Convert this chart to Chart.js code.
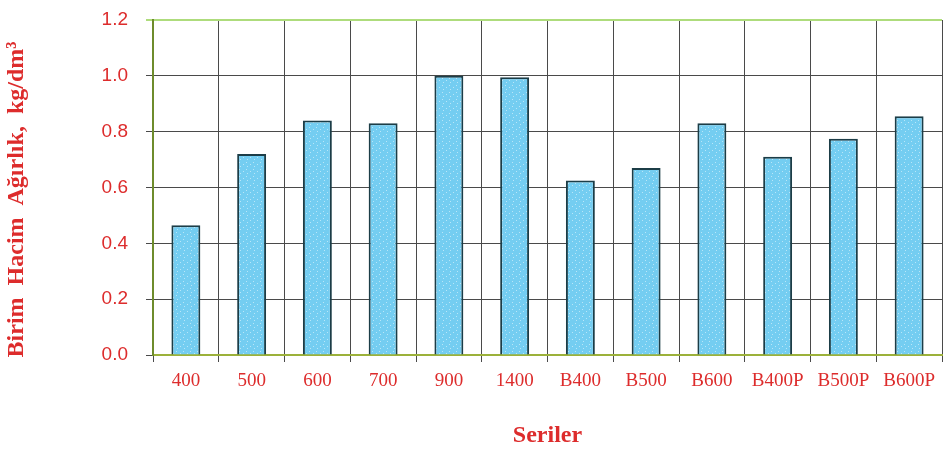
<!DOCTYPE html>
<html>
<head>
<meta charset="utf-8">
<script src="https://cdn.jsdelivr.net/npm/chart.js@4"></script>
<style>
  html, body { margin: 0; padding: 0; background: #fff; }
  #wrap { width: 943px; height: 450px; }
</style>
</head>
<body>
<div id="wrap"><canvas id="densityChart"></canvas></div>
<script>
// Seriler (categories) and unit weights
const seriesLabels = ["400", "500", "600", "700", "900", "1400", "B400", "B500", "B600", "B400P", "B500P", "B600P"];
const unitWeights = [0.465, 0.72, 0.84, 0.83, 1.0, 0.995, 0.625, 0.67, 0.83, 0.71, 0.775, 0.855];
const yTickLabels = ["0.0", "0.2", "0.4", "0.6", "0.8", "1.0", "1.2"];

const RED = "#dd2c2c";

// dotted light-blue fill like the original bars
function dotPattern(ctx) {
  const c = document.createElement("canvas");
  c.width = 7;
  c.height = 7;
  const g = c.getContext("2d");
  g.fillStyle = "#74cdf1";
  g.fillRect(0, 0, 7, 7);
  g.fillStyle = "#b8e6f8";
  g.fillRect(1, 1, 1, 1);
  g.fillRect(5, 3, 1, 1);
  g.fillRect(2, 5, 1, 1);
  return ctx.createPattern(c, "repeat");
}

const ctx = document.getElementById("densityChart").getContext("2d");

new Chart(ctx, {
  type: "bar",
  data: {
    labels: seriesLabels,
    datasets: [
      {
        label: "Birim Hacim Ağırlık",
        data: unitWeights,
        backgroundColor: dotPattern(ctx),
        borderColor: "#1c3d47",
        borderWidth: 2,
        barPercentage: 0.44,
        categoryPercentage: 1,
      },
    ],
  },
  options: {
    responsive: true,
    maintainAspectRatio: false,
    animation: false,
    layout: { padding: { top: 20, right: 0, bottom: 0, left: 0 } },
    plugins: {
      legend: { display: false },
      tooltip: { enabled: false },
    },
    scales: {
      x: {
        offset: true,
        afterFit: (s) => { s.height = 95; },
        grid: {
          offset: true,
          color: "#4a4a4a",
          lineWidth: 1,
          tickLength: 7,
        },
        border: { color: "#9cb13a", width: 2 },
        ticks: {
          color: RED,
          padding: 8,
          maxRotation: 0,
          autoSkip: false,
          font: { family: "'Liberation Serif', 'Times New Roman', serif", size: 19 },
        },
        title: {
          display: true,
          text: "Seriler",
          color: RED,
          padding: { top: 0, bottom: 0 },
          font: { family: "'Liberation Serif', 'Times New Roman', serif", size: 24, weight: "bold" },
        },
      },
      y: {
        min: 0,
        max: 1.2,
        afterFit: (s) => {
          s.width = 153;
          s.paddingTop = 0;
          s.paddingBottom = 0;
        },
        ticks: {
          stepSize: 0.2,
          color: RED,
          padding: 18,
          font: { family: "'Liberation Sans', Arial, sans-serif", size: 19 },
          callback: (v, i) => yTickLabels[i],
        },
        grid: {
          color: (c) => (c.tick && Math.abs(c.tick.value - 1.2) < 1e-6 ? "#aedc7c" : "#4a4a4a"),
          lineWidth: (c) => (c.tick && Math.abs(c.tick.value - 1.2) < 1e-6 ? 2 : 1),
          tickLength: 7,
        },
        border: { color: "#6e8c2c", width: 2 },
        title: {
          display: true,
          // trailing spaces nudge the title a bit lower, as in the original
          text: "Birim  Hacim  Ağırlık,  kg/dm³\u00a0\u00a0\u00a0\u00a0",
          color: RED,
          padding: { top: 2, bottom: 0 },
          font: { family: "'Liberation Serif', 'Times New Roman', serif", size: 24, weight: "bold" },
        },
      },
    },
  },
});
</script>
</body>
</html>
